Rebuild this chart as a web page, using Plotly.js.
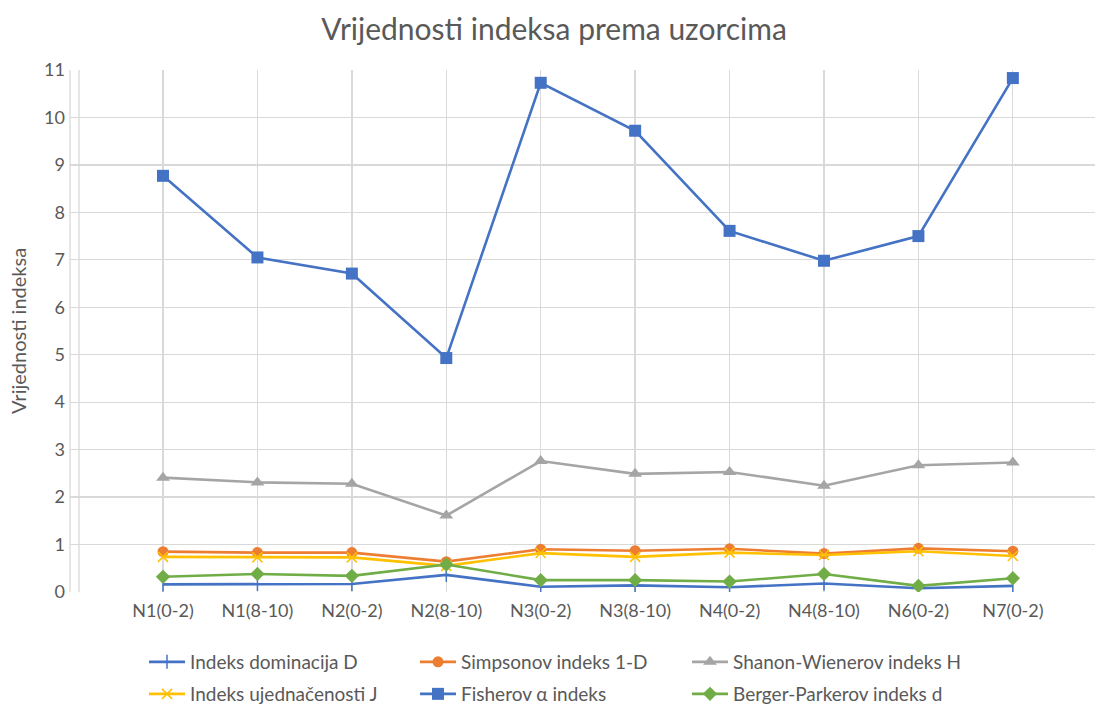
<!DOCTYPE html>
<html>
<head>
<meta charset="utf-8">
<script src="https://cdn.plot.ly/plotly-3.0.1.min.js"></script>
<style>html,body{margin:0;padding:0;background:#fff;}#chart{width:1095px;height:707px;}</style>
</head>
<body>
<div id="chart"></div>
<script>
const categories = ["N1(0-2)", "N1(8-10)", "N2(0-2)", "N2(8-10)", "N3(0-2)", "N3(8-10)", "N4(0-2)", "N4(8-10)", "N6(0-2)", "N7(0-2)"];
const dominacijaD = [0.16, 0.17, 0.17, 0.36, 0.11, 0.14, 0.10, 0.18, 0.08, 0.13];
const simpson1D = [0.85, 0.83, 0.83, 0.64, 0.90, 0.87, 0.91, 0.81, 0.92, 0.86];
const shannonH = [2.41, 2.31, 2.28, 1.61, 2.76, 2.49, 2.53, 2.24, 2.67, 2.73];
const ujednacenostJ = [0.74, 0.73, 0.73, 0.55, 0.82, 0.74, 0.83, 0.78, 0.86, 0.76];
const fisherAlpha = [8.77, 7.05, 6.71, 4.93, 10.73, 9.72, 7.61, 6.98, 7.50, 10.83];
const bergerParker = [0.32, 0.38, 0.34, 0.58, 0.25, 0.25, 0.22, 0.38, 0.13, 0.29];
const yTicks = [0, 1, 2, 3, 4, 5, 6, 7, 8, 9, 10, 11];

const FONT = "Lato, 'Open Sans', sans-serif";
const TXT = "#595959";

function tr(name, y, color, symbol, size, legend, mline) {
  return {
    type: "scatter", mode: "lines+markers", name: name,
    x: categories, y: y, legend: legend,
    line: {color: color, width: 2.6},
    marker: {color: color, symbol: symbol, size: size, line: {color: color, width: mline || 0}}
  };
}

const traces = [
  tr("Indeks dominacija D", dominacijaD, "#4472C4", "line-ns", 10, "legend", 1.5),
  tr("Simpsonov indeks 1-D", simpson1D, "#ED7D31", "circle", 11, "legend2"),
  tr("Shanon-Wienerov indeks H", shannonH, "#A5A5A5", "triangle-up", 12, "legend3"),
  tr("Indeks ujednačenosti J", ujednacenostJ, "#FFC000", "x-thin", 10, "legend4", 1.5),
  tr("Fisherov α indeks", fisherAlpha, "#4472C4", "square", 12, "legend5"),
  tr("Berger-Parkerov indeks d", bergerParker, "#70AD47", "diamond", 11, "legend6")
];

function leg(px, py) {
  return {
    orientation: "h", xref: "container", yref: "container",
    x: px / 1095, y: 1 - py / 707, xanchor: "left", yanchor: "middle",
    font: {family: FONT, size: 19, color: TXT},
    itemwidth: 36, bgcolor: "rgba(0,0,0,0)", borderwidth: 0
  };
}

const colX = [144, 415, 687];
const rowY = [662, 694];

const layout = {
  width: 1095, height: 707,
  paper_bgcolor: "#fff", plot_bgcolor: "#fff",
  margin: {l: 70, r: 0, t: 70, b: 115},
  font: {family: FONT, color: TXT},
  title: {text: "Vrijednosti indeksa prema uzorcima", font: {family: FONT, size: 30, color: TXT},
          x: 0.506, xref: "container", xanchor: "center", y: 1 - 29/707, yref: "container", yanchor: "middle"},
  xaxis: {
    type: "category", range: [-0.985, 9.87],
    showgrid: true, gridcolor: "#D9D9D9", gridwidth: 1.3,
    zeroline: false, showline: false, ticks: "", ticklabelstandoff: 6,
    tickfont: {family: FONT, size: 18, color: TXT}, fixedrange: true
  },
  yaxis: {
    range: [0, 11], tickvals: yTicks, ticktext: yTicks.map(String),
    showgrid: true, gridcolor: "#D9D9D9", gridwidth: 1.3,
    zeroline: false, showline: false, ticks: "", ticklabelstandoff: 4,
    tickfont: {family: FONT, size: 18, color: TXT},
    title: {text: "Vrijednosti indeksa", font: {family: FONT, size: 20, color: TXT}, standoff: 12},
    fixedrange: true
  },
  shapes: [
    {type: "line", xref: "paper", yref: "paper", x0: 0, x1: 0, y0: 0, y1: 1, line: {color: "#D9D9D9", width: 1.3}},
    {type: "line", xref: "paper", yref: "paper", x0: 0.0088, x1: 0.0088, y0: 0, y1: 1, line: {color: "#D9D9D9", width: 1.3}}
  ],
  showlegend: true,
  legend: leg(colX[0], rowY[0]),
  legend2: leg(colX[1], rowY[0]),
  legend3: leg(colX[2], rowY[0]),
  legend4: leg(colX[0], rowY[1]),
  legend5: leg(colX[1], rowY[1]),
  legend6: leg(colX[2], rowY[1])
};

Plotly.newPlot("chart", traces, layout, {displayModeBar: false, staticPlot: true});
</script>
</body>
</html>
